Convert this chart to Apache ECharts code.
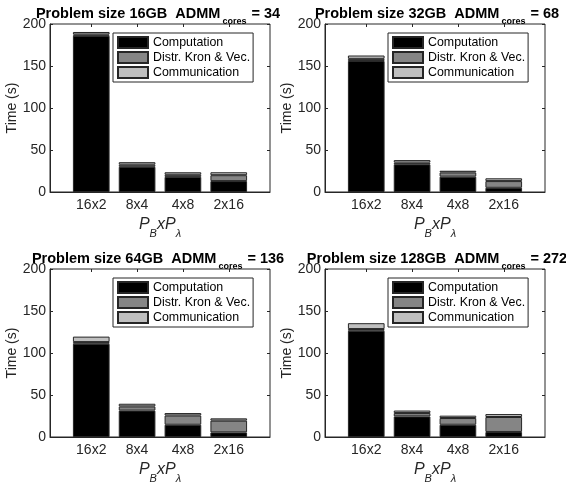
<!DOCTYPE html>
<html>
<head>
<meta charset="utf-8">
<script src="https://cdn.jsdelivr.net/npm/echarts@6/dist/echarts.min.js"></script>
<style>html,body{margin:0;padding:0;background:#fff}#c{width:566px;height:488px}</style>
</head>
<body>
<div id="c"></div>
<script>
var categories = ['16x2', '8x4', '4x8', '2x16'];
var seriesNames = ['Computation', 'Distr. Kron & Vec.', 'Communication'];
var panelSizes = ['16GB', '32GB', '64GB', '128GB'];
var panelCores = [34, 68, 136, 272];
var yTicks = [0, 50, 100, 150, 200];

// 16GB, 34 cores
var comp16 = [186, 30, 18, 13];
var kron16 = [1.5, 2.5, 2.5, 7];
var comm16 = [3, 3, 3, 3.5];
// 32GB, 68 cores
var comp32 = [156, 33, 18.3, 5];
var kron32 = [2.5, 2, 5, 8];
var comm32 = [4, 3, 2, 3.3];
// 64GB, 136 cores
var comp64 = [111, 31.4, 14.6, 5.5];
var kron64 = [2, 5, 11, 14];
var comm64 = [6.5, 3.2, 2.9, 2.7];
// 128GB, 272 cores
var comp128 = [126.5, 24.5, 14.6, 6];
var kron128 = [2, 4, 8, 17.8];
var comm128 = [7, 3, 2.8, 3.5];

var panelData = [
  [comp16, kron16, comm16],
  [comp32, kron32, comm32],
  [comp64, kron64, comm64],
  [comp128, kron128, comm128]
];

var FONT = 'Liberation Sans, Arial, sans-serif';
var AX = '#262626';
var fills = ['#000000', '#858585', '#bfbfbf'];
var gridPos = [
  {left: 50, top: 24}, {left: 325, top: 24},
  {left: 50, top: 269}, {left: 325, top: 269}
];
var GW = 220, GH = 168;
var XMIN = 0.1, XMAX = 4.9;           // axis limits in category units
var titleCenters = [153, 432, 153, 432];

var option = {
  animation: false,
  backgroundColor: '#fff',
  title: [], grid: [], xAxis: [], yAxis: [], series: [], legend: []
};

for (var p = 0; p < 4; p++) {
  var g = gridPos[p];
  var slot = GW / (XMAX - XMIN);
  var innerLeft = g.left + (0.5 - XMIN) * slot;
  var innerWidth = categories.length * slot;
  option.grid.push({
    left: g.left, top: g.top, width: GW, height: GH,
    show: true, borderColor: AX, borderWidth: 1, backgroundColor: 'transparent'
  });
  option.grid.push({
    left: innerLeft, top: g.top, width: innerWidth, height: GH, show: false
  });
  option.title.push({
    text: '{t|Problem size ' + panelSizes[p] + '  ADMM}{s|cores}{t| = ' + panelCores[p] + '}',
    left: titleCenters[p], top: g.top - 23, textAlign: 'center',
    textStyle: {
      rich: {
        t: {fontFamily: FONT, fontWeight: 'bold', fontSize: 14.5, color: '#000', verticalAlign: 'top', lineHeight: 16},
        s: {fontFamily: FONT, fontWeight: 'bold', fontSize: 9, color: '#000', verticalAlign: 'bottom', lineHeight: 20, padding: [0, 1, 0, 2]}
      }
    }
  });
  option.xAxis.push({
    type: 'value', gridIndex: 2 * p, min: XMIN, max: XMAX, position: 'bottom',
    splitLine: {show: false},
    axisLine: {show: true, lineStyle: {color: AX, width: 1}},
    axisTick: {show: false}, axisLabel: {show: false}
  });
  option.xAxis.push({
    type: 'category', gridIndex: 2 * p + 1, data: categories, position: 'bottom',
    boundaryGap: true,
    splitLine: {show: false},
    axisLine: {show: false},
    axisTick: {show: true, inside: true, length: 3, alignWithLabel: true, lineStyle: {color: AX}},
    axisLabel: {show: true, margin: 6, fontSize: 14, fontFamily: FONT, color: AX},
    name: '{i|P}{s|B}{i|x}{i|P}{s|λ}', nameLocation: 'middle', nameGap: 25,
    nameTextStyle: {
      rich: {
        i: {fontFamily: FONT, fontStyle: 'italic', fontSize: 16, color: AX, verticalAlign: 'top', lineHeight: 17},
        s: {fontFamily: FONT, fontStyle: 'italic', fontSize: 11, color: AX, verticalAlign: 'bottom', lineHeight: 22}
      }
    }
  });
  option.xAxis.push({
    type: 'category', gridIndex: 2 * p + 1, data: categories, position: 'top',
    boundaryGap: true,
    axisLine: {show: false},
    axisTick: {show: true, inside: true, length: 3, alignWithLabel: true, lineStyle: {color: AX}},
    axisLabel: {show: false}
  });
  option.yAxis.push({
    type: 'value', gridIndex: 2 * p, min: 0, max: 200, interval: 50, position: 'left',
    splitLine: {show: false},
    axisLine: {show: true, lineStyle: {color: AX, width: 1}},
    axisTick: {show: true, inside: true, length: 3, lineStyle: {color: AX}},
    axisLabel: {show: true, margin: 4, fontSize: 14, fontFamily: FONT, color: AX, customValues: yTicks},
    name: 'Time (s)', nameLocation: 'middle', nameGap: 29,
    nameTextStyle: {fontFamily: FONT, fontSize: 14, color: AX}
  });
  option.yAxis.push({
    type: 'value', gridIndex: 2 * p, min: 0, max: 200, interval: 50, position: 'right',
    splitLine: {show: false},
    axisLine: {show: false},
    axisTick: {show: true, inside: true, length: 3, lineStyle: {color: AX}},
    axisLabel: {show: false}
  });
  option.yAxis.push({
    type: 'value', gridIndex: 2 * p + 1, min: 0, max: 200, show: false
  });
  for (var s = 0; s < 3; s++) {
    option.series.push({
      type: 'bar', name: seriesNames[s], xAxisIndex: 3 * p + 1, yAxisIndex: 3 * p + 2,
      stack: 'panel' + p, barWidth: '80%',
      itemStyle: {color: fills[s], borderColor: AX, borderWidth: 1},
      emphasis: {disabled: true},
      data: panelData[p][s]
    });
  }
  option.legend.push({
    orient: 'vertical', left: g.left + 63, top: g.top + 9,
    data: seriesNames, icon: 'rect', itemWidth: 30, itemHeight: 11, itemGap: 2,
    selectedMode: false,
    backgroundColor: '#fff', borderColor: AX, borderWidth: 1, borderRadius: 0,
    padding: [3, 3, 3, 4],
    textStyle: {fontFamily: FONT, fontSize: 12.4, color: '#000', lineHeight: 12}
  });
}

var chart = echarts.init(document.getElementById('c'), null, {renderer: 'canvas'});
chart.setOption(option);
</script>
</body>
</html>
